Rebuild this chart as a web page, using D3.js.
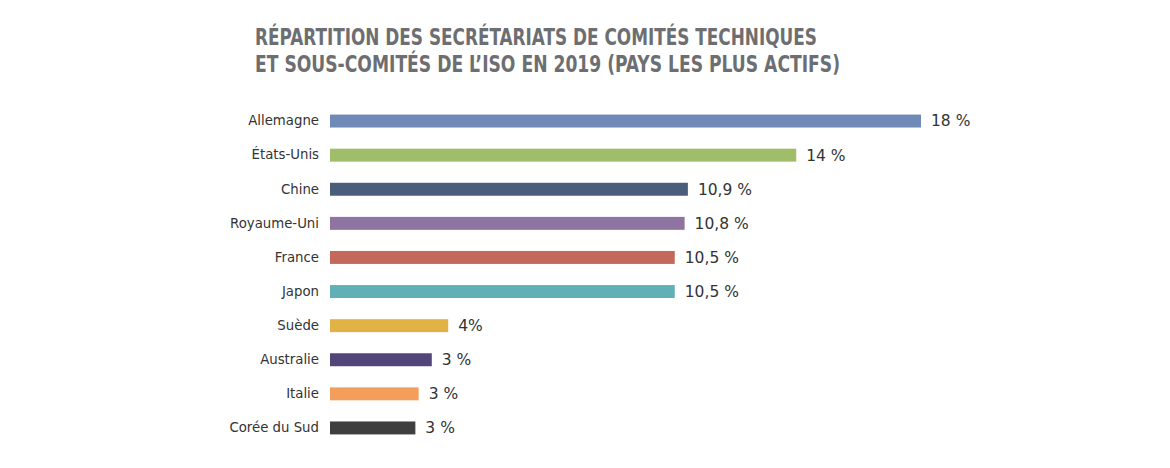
<!DOCTYPE html>
<html><head><meta charset="utf-8">
<script src="https://cdn.jsdelivr.net/npm/d3@7"></script>
<style>body{margin:0;background:#fff}</style>
</head><body>
<svg id="c" width="1170" height="468"></svg>
<script>
const categories = ["Allemagne","États-Unis","Chine","Royaume-Uni","France","Japon","Suède","Australie","Italie","Corée du Sud"];
const values = [18, 14.2, 10.9, 10.8, 10.5, 10.5, 3.6, 3.1, 2.7, 2.6];
const valueLabels = ["18 %","14 %","10,9 %","10,8 %","10,5 %","10,5 %","4%","3 %","3 %","3 %"];
const colors = ["#6f8ab7","#a0bd6a","#4a5d7a","#8e74a0","#c4685c","#62b0b7","#e2b244","#524579","#f49e5c","#3f3f40"];
const titleLines = ["RÉPARTITION DES SECRÉTARIATS DE COMITÉS TECHNIQUES","ET SOUS-COMITÉS DE L’ISO EN 2019 (PAYS LES PLUS ACTIFS)"];

const svg = d3.select("#c");
const x = d3.scaleLinear().domain([0,18]).range([330,921]);
const y = d3.scaleBand().domain(categories).range([104,445]).paddingInner(0.62).paddingOuter(0.31);

svg.selectAll("text.title").data(titleLines).join("text")
  .attr("class","title")
  .attr("x",255).attr("y",(d,i)=>45+i*27)
  .attr("font-family","'Liberation Sans Narrow','DejaVu Sans Condensed',sans-serif")
  .attr("font-weight","bold").attr("font-size",23).attr("fill","#6d6e71")
  .attr("textLength",(d,i)=>i===0?562:585).attr("lengthAdjust","spacingAndGlyphs")
  .text(d=>d);

const data = categories.map((c,i)=>({c, v:values[i], l:valueLabels[i], col:colors[i]}));

svg.selectAll("rect.bar").data(data).join("rect")
  .attr("class","bar")
  .attr("x",x(0)).attr("y",d=>y(d.c))
  .attr("width",d=>x(d.v)-x(0)).attr("height",y.bandwidth())
  .attr("fill",d=>d.col);

const yAxis = d3.axisLeft(y).tickSize(0).tickPadding(11);
const g = svg.append("g").attr("transform",`translate(${x(0)},0)`).call(yAxis);
g.select(".domain").remove();
g.selectAll("text").attr("font-family","'DejaVu Sans',sans-serif").attr("font-size",13.3).attr("fill","#333");

svg.selectAll("text.val").data(data).join("text")
  .attr("class","val")
  .attr("x",d=>x(d.v)+10).attr("y",d=>y(d.c)+y.bandwidth()/2)
  .attr("dy","0.35em")
  .attr("font-family","'DejaVu Sans',sans-serif").attr("font-size",15.5).attr("fill","#333")
  .text(d=>d.l);
</script>
</body></html>
